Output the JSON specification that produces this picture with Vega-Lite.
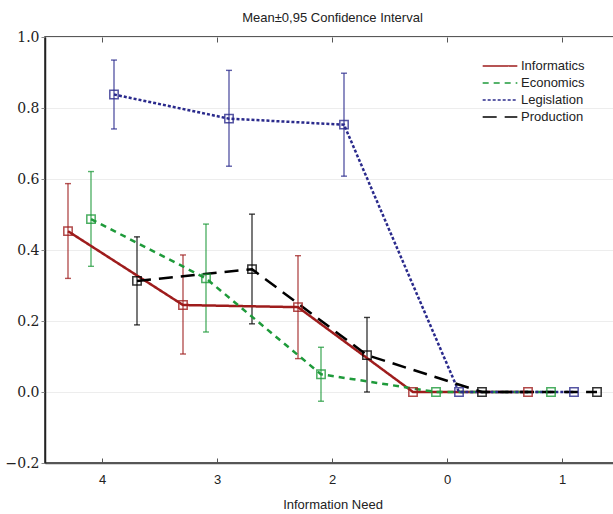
{
  "$schema": "https://vega.github.io/schema/vega-lite/v6.json",
  "width": 575,
  "height": 426,
  "padding": {"left": 5, "top": 12, "right": 0, "bottom": 5},
  "title": {"text": "Mean±0,95 Confidence Interval", "font": "Liberation Sans", "fontSize": 13, "fontWeight": "normal", "color": "#222", "offset": 5},
  "config": {
    "view": {"stroke": "#222", "strokeWidth": 1.5},
    "axis": {"labelFont": "Liberation Sans", "titleFont": "Liberation Sans", "labelColor": "#222", "titleColor": "#222"}
  },
  "resolve": {"axis": {"x": "independent"}},
  "data": {"values": [
    {"need": "4", "series": "Informatics", "mean": 0.453, "lo": 0.320, "hi": 0.587},
    {"need": "4", "series": "Economics", "mean": 0.487, "lo": 0.354, "hi": 0.621},
    {"need": "4", "series": "Legislation", "mean": 0.838, "lo": 0.741, "hi": 0.935},
    {"need": "4", "series": "Production", "mean": 0.313, "lo": 0.189, "hi": 0.437},
    {"need": "3", "series": "Informatics", "mean": 0.245, "lo": 0.107, "hi": 0.386},
    {"need": "3", "series": "Economics", "mean": 0.320, "lo": 0.169, "hi": 0.473},
    {"need": "3", "series": "Legislation", "mean": 0.770, "lo": 0.636, "hi": 0.906},
    {"need": "3", "series": "Production", "mean": 0.346, "lo": 0.192, "hi": 0.501},
    {"need": "2", "series": "Informatics", "mean": 0.239, "lo": 0.094, "hi": 0.384},
    {"need": "2", "series": "Economics", "mean": 0.050, "lo": -0.026, "hi": 0.126},
    {"need": "2", "series": "Legislation", "mean": 0.753, "lo": 0.608, "hi": 0.898},
    {"need": "2", "series": "Production", "mean": 0.104, "lo": 0.0, "hi": 0.210},
    {"need": "0", "series": "Informatics", "mean": 0, "lo": null, "hi": null},
    {"need": "0", "series": "Economics", "mean": 0, "lo": null, "hi": null},
    {"need": "0", "series": "Legislation", "mean": 0, "lo": null, "hi": null},
    {"need": "0", "series": "Production", "mean": 0, "lo": null, "hi": null},
    {"need": "1", "series": "Informatics", "mean": 0, "lo": null, "hi": null},
    {"need": "1", "series": "Economics", "mean": 0, "lo": null, "hi": null},
    {"need": "1", "series": "Legislation", "mean": 0, "lo": null, "hi": null},
    {"need": "1", "series": "Production", "mean": 0, "lo": null, "hi": null}
  ]},
  "encoding": {
    "x": {"field": "need", "type": "nominal", "sort": ["4", "3", "2", "0", "1"],
      "scale": {"paddingInner": 0, "paddingOuter": 0}, "axis": null},
    "xOffset": {"field": "series", "type": "nominal", "sort": ["Informatics", "Economics", "Legislation", "Production"], "scale": {"type": "point", "padding": 1}},
    "color": {"field": "series", "type": "nominal", "sort": ["Informatics", "Economics", "Legislation", "Production"],
      "scale": {"domain": ["Informatics", "Economics", "Legislation", "Production"], "range": ["#9e1c1c", "#1e9a3a", "#2a2a8c", "#000000"]},
      "legend": {"title": null, "orient": "none", "legendX": 445, "legendY": 19, "symbolType": "M-2,0H2", "symbolSize": 300, "symbolStrokeWidth": 2.2, "labelFont": "Liberation Sans", "labelFontSize": 13, "labelColor": "#222", "rowPadding": 0, "labelOffset": 11}}
  },
  "layer": [
    {"mark": {"type": "rule", "opacity": 0},
      "encoding": {
        "x": {"field": "need", "type": "nominal", "sort": ["4", "3", "2", "0", "1"],
          "axis": {"orient": "top", "title": null, "labels": false, "domain": false, "tickSize": -5, "tickColor": "#555"}},
        "xOffset": {"value": 0}, "color": {"value": "#000"}}},
    {"mark": {"type": "rule", "strokeWidth": 1.4, "opacity": 0.75},
      "encoding": {
        "x": {"field": "need", "type": "nominal", "sort": ["4", "3", "2", "0", "1"],
          "axis": {"title": "Information Need", "labelAngle": 0, "labelFontSize": 13, "titleFontSize": 13, "titleFontWeight": "normal", "labelPadding": 15, "titlePadding": 12, "tickSize": -5, "tickColor": "#555", "domainColor": "#555", "domainWidth": 1.5}},
        "y": {"field": "lo", "type": "quantitative"}, "y2": {"field": "hi"}}},
    {"mark": {"type": "tick", "thickness": 1.4, "size": 6, "opacity": 0.75},
      "encoding": {"y": {"field": "lo", "type": "quantitative"}}},
    {"mark": {"type": "tick", "thickness": 1.4, "size": 6, "opacity": 0.75},
      "encoding": {"y": {"field": "hi", "type": "quantitative"}}},
    {"mark": {"type": "line", "strokeWidth": 2.5},
      "encoding": {
        "y": {"field": "mean", "type": "quantitative",
          "scale": {"domain": [-0.2, 1.0], "nice": false, "zero": false},
          "axis": {"title": null, "values": [-0.2, 0, 0.2, 0.4, 0.6, 0.8, 1.0], "format": ".1f", "labelFont": "DejaVu Serif", "labelFontSize": 14, "tickSize": 4, "tickColor": "#888", "domainColor": "#222", "domainWidth": 1.5, "gridColor": "#ededed", "labelPadding": 2}},
        "strokeDash": {"field": "series", "type": "nominal",
          "scale": {"domain": ["Informatics", "Economics", "Legislation", "Production"], "range": [[1, 0], [6, 5], [3, 2], [14, 8]]},
          "legend": {"title": null, "orient": "none", "legendX": 445, "legendY": 19, "symbolType": "M-2,0H2", "symbolSize": 300, "symbolStrokeWidth": 2.2, "labelFont": "Liberation Sans", "labelFontSize": 13, "labelColor": "#222", "rowPadding": 0, "labelOffset": 11}}
      }},
    {"mark": {"type": "point", "shape": "square", "filled": false, "size": 70, "strokeWidth": 1.5, "opacity": 0.8},
      "encoding": {"y": {"field": "mean", "type": "quantitative"}}}
  ]
}
